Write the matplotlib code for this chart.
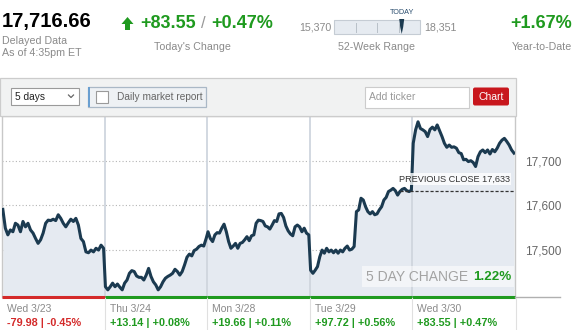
import numpy as np
import matplotlib
matplotlib.use("Agg")
import matplotlib.pyplot as plt
from matplotlib.patches import Rectangle, Polygon, FancyBboxPatch

plt.rcParams['font.family'] = ['Liberation Sans', 'DejaVu Sans']

# ---------------- data ----------------
last_value = "17,716.66"
change_pts = "+83.55"
change_pct = "+0.47%"
week52_low, week52_high, today_value = 15370, 18351, 17716.66
ytd_change = "+1.67%"
prev_close = 17633
five_day_change = "1.22%"

day_labels = ["Wed 3/23", "Thu 3/24", "Mon 3/28", "Tue 3/29", "Wed 3/30"]
day_changes = ["-79.98 | -0.45%", "+13.14 | +0.08%", "+19.66 | +0.11%",
               "+97.72 | +0.56%", "+83.55 | +0.47%"]
day_up = [False, True, True, True, True]

day1 = [17591, 17549, 17534, 17545, 17541, 17560, 17556, 17541, 17564, 17552, 17560,
        17545, 17538, 17526, 17515, 17523, 17538, 17560, 17567, 17566, 17569, 17566,
        17579, 17571, 17560, 17552, 17561, 17569, 17564, 17571, 17556, 17526, 17519,
        17496, 17494, 17500, 17496, 17504, 17500, 17511, 17504]
day2 = [17418, 17411, 17418, 17426, 17418, 17424, 17417, 17411, 17426, 17433, 17448,
        17454, 17452, 17442, 17439, 17439, 17433, 17444, 17459, 17441, 17429, 17422,
        17411, 17418, 17429, 17437, 17441, 17444, 17448, 17457, 17452, 17444, 17452,
        17467, 17484, 17491, 17487, 17499, 17502, 17508, 17511, 17509, 17526]
day3 = [17541, 17526, 17519, 17534, 17539, 17538, 17549, 17558, 17541, 17519, 17504,
        17509, 17515, 17504, 17515, 17517, 17523, 17530, 17521, 17532, 17534, 17560,
        17567, 17566, 17564, 17554, 17552, 17547, 17556, 17566, 17564, 17581, 17582,
        17573, 17554, 17543, 17536, 17532, 17552, 17556, 17552, 17541, 17549, 17538,
        17534]
day4 = [17455, 17448, 17455, 17463, 17485, 17500, 17493, 17504, 17496, 17500, 17494,
        17500, 17493, 17500, 17496, 17504, 17509, 17500, 17502, 17508, 17586, 17590,
        17616, 17612, 17597, 17586, 17581, 17586, 17579, 17581, 17590, 17597, 17612,
        17618, 17631, 17634, 17638, 17633, 17623, 17631, 17636, 17638, 17633, 17631,
        17634]
day5 = [17739, 17769, 17787, 17772, 17769, 17765, 17754, 17770, 17775, 17769, 17780,
        17767, 17754, 17739, 17730, 17735, 17730, 17731, 17728, 17718, 17716, 17702,
        17703, 17698, 17700, 17696, 17687, 17709, 17720, 17724, 17718, 17724, 17715,
        17725, 17720, 17728, 17739, 17746, 17750, 17743, 17735, 17724, 17717]
days = [day1, day2, day3, day4, day5]

yticks = [17500, 17600, 17700]
ytick_labels = ["17,500", "17,600", "17,700"]

# ---------------- layout ----------------
W, H = 575, 330
GREEN = '#1f9a1f'
RED = '#d42a2a'
GRAY = '#8a8a8a'
NAVY = '#1b3a50'

fig = plt.figure(figsize=(W / 100, H / 100), dpi=100)
fig.patch.set_facecolor('white')

L, R, T, B = 2, 515, 116, 297
ax = fig.add_axes([L / W, 1 - B / H, (R - L) / W, (B - T) / H])

xs, ys = [], []
for k, d in enumerate(days):
    xs.append(k + np.linspace(0.008, 0.99, len(d)))
    ys.append(np.array(d, dtype=float))
x = np.concatenate(xs)
y = np.concatenate(ys)

ymin, ymax = 17395, 17800
ax.set_xlim(0, 5)
ax.set_ylim(ymin, ymax)
ax.fill_between(x, y, ymin, color='#e5eaf1', zorder=1, lw=0)
for k in range(1, 5):
    ax.axvline(k, color='#cfd6de', lw=1.3, zorder=2)
ax.set_yticks(yticks)
ax.set_yticklabels(ytick_labels)
ax.yaxis.tick_right()
ax.tick_params(axis='y', length=0, pad=7, labelsize=8.5, labelcolor='#666666')
ax.set_xticks([])
ax.yaxis.grid(True, linestyle=(0, (1, 2)), color='#b5b5b5', lw=0.8, zorder=0)
ax.set_axisbelow(True)
ax.plot(x, y, color=NAVY, lw=2.2, zorder=5, solid_joinstyle='round')

# previous close line
ax.hlines(prev_close, 3.88, 5, colors='#333333', linestyles=(0, (2.5, 1.5)), lw=0.9, zorder=6)
ax.annotate(f"PREVIOUS CLOSE {prev_close:,}", xy=(4.95, prev_close), xytext=(0, 5),
            textcoords='offset points', ha='right', va='bottom', fontsize=6.6,
            color='#333333', zorder=7,
            bbox=dict(boxstyle='square,pad=0.15', fc='white', ec='none', alpha=0.8))

# bottom red/green bars
ax.hlines(ymin, 0, 1, colors=[RED if not day_up[0] else GREEN], lw=2.2, zorder=8, clip_on=False)
for k in range(1, 5):
    ax.hlines(ymin, k, k + 1, colors=[GREEN if day_up[k] else RED], lw=2.2, zorder=8, clip_on=False)

for s in ['left', 'top', 'right']:
    ax.spines[s].set_color('#c8c8c8')
    ax.spines[s].set_linewidth(1.0)
ax.spines['bottom'].set_visible(False)

# ---------------- overlay in pixel coordinates ----------------
ov = fig.add_axes([0, 0, 1, 1], zorder=10)
ov.set_xlim(0, W)
ov.set_ylim(H, 0)
ov.axis('off')

# header numbers
ov.text(2, 22, last_value, fontsize=14.5, fontweight='bold', color='black', va='center', ha='left')
ov.text(2, 40.5, "Delayed Data", fontsize=7.7, color=GRAY, va='center')
ov.text(2, 53, "As of 4:35pm ET", fontsize=7.7, color=GRAY, va='center')

ov.add_patch(Polygon([[127.5, 17], [121.5, 24], [125, 24], [125, 30], [130, 30], [130, 24],
                      [133.5, 24]], closed=True, fc=GREEN, ec='none'))
ov.text(140, 24, change_pts, fontsize=13, fontweight='bold', color=GREEN, va='center')
ov.text(201, 24, "/", fontsize=12, color='#999999', va='center')
ov.text(211, 24, change_pct, fontsize=13, fontweight='bold', color=GREEN, va='center')
ov.text(192, 47.5, "Today's Change", fontsize=7.7, color=GRAY, va='center', ha='center')

# 52-week range
ov.text(331, 27, f"{week52_low:,}", fontsize=7.7, color=GRAY, va='center', ha='right')
bx0, bx1 = 334, 420
ov.add_patch(Rectangle((bx0, 20), bx1 - bx0, 14, fc='#e6ebf1', ec='#c5ccd4', lw=0.8))
for q in (0.25, 0.5, 0.75):
    xq = bx0 + q * (bx1 - bx0)
    ov.plot([xq, xq], [23, 32], color='#b8c0c8', lw=0.7)
frac = (today_value - week52_low) / (week52_high - week52_low)
nx = bx0 + frac * (bx1 - bx0)
ov.add_patch(Polygon([[nx - 2.5, 19], [nx + 2.5, 19], [nx + 1.5, 27], [nx, 34], [nx - 1.5, 27]],
                     closed=True, fc=NAVY, ec='none'))
ov.text(nx, 12.5, "TODAY", fontsize=5.2, color='#2a4d6e', ha='center', va='center')
ov.text(424, 27, f"{week52_high:,}", fontsize=7.7, color=GRAY, va='center', ha='left')
ov.text(377, 47, "52-Week Range", fontsize=7.7, color=GRAY, va='center', ha='center')

ov.text(541, 24, ytd_change, fontsize=13, fontweight='bold', color=GREEN, va='center', ha='center')
ov.text(542, 47.5, "Year-to-Date", fontsize=7.7, color=GRAY, va='center', ha='center')

# toolbar band
ov.add_patch(Rectangle((0, 78), 516, 38, fc='#f1f2f2', ec='#cccccc', lw=0.9))
ov.add_patch(Rectangle((11, 88), 68, 16.5, fc='white', ec='#9a9a9a', lw=0.8))
ov.text(15, 96.5, "5 days", fontsize=7.3, color='#222222', va='center')
ov.plot([68.5, 71, 73.5], [95, 97.5, 95], color='#666666', lw=0.9)
ov.add_patch(Rectangle((88, 87), 118, 20, fc='#eef1f4', ec='#aab8c6', lw=0.9))
ov.add_patch(Rectangle((88, 87), 2.2, 20, fc='#6a9fd0', ec='none'))
ov.add_patch(Rectangle((96, 91), 12, 12, fc='white', ec='#9a9a9a', lw=0.8))
ov.text(117, 96.5, "Daily market report", fontsize=7.3, color='#666666', va='center')
ov.add_patch(Rectangle((365, 87), 104, 21, fc='white', ec='#cccccc', lw=0.8))
ov.text(369, 97.5, "Add ticker", fontsize=7.5, color='#999999', va='center')
ov.add_patch(FancyBboxPatch((473, 87.5), 36, 18, boxstyle='round,pad=0,rounding_size=2',
                            fc='#c8171d', ec='none'))
ov.text(491, 96.5, "Chart", fontsize=7.5, color='white', va='center', ha='center')

# five day change box
ov.add_patch(Rectangle((362, 266), 152, 21, fc='white', ec='none', alpha=0.55, zorder=3))
ov.text(366, 277, "5 DAY CHANGE", fontsize=10, color='#a3a3a3', va='center', zorder=4)
ov.text(511, 277, five_day_change, fontsize=9.6, fontweight='bold', color=GREEN,
        va='center', ha='right', zorder=4)

# axis base line continuing under labels
ov.plot([R, 560], [B, B], color='#b0b0b0', lw=1.0)

# footer
step = (R - L) / 5
for k in range(5):
    x0 = L + k * step
    ov.text(x0 + 5, 308.5, day_labels[k], fontsize=7.5, color=GRAY, va='center')
    ov.text(x0 + 5, 323, day_changes[k], fontsize=7.8, fontweight='bold',
            color=GREEN if day_up[k] else RED, va='center')
    if k > 0:
        ov.plot([x0, x0], [B + 1, H], color='#e0e0e0', lw=0.8)
ov.plot([R + 1, R + 1], [B + 1, H], color='#e0e0e0', lw=0.8)

fig.savefig("out.png", dpi=100)
